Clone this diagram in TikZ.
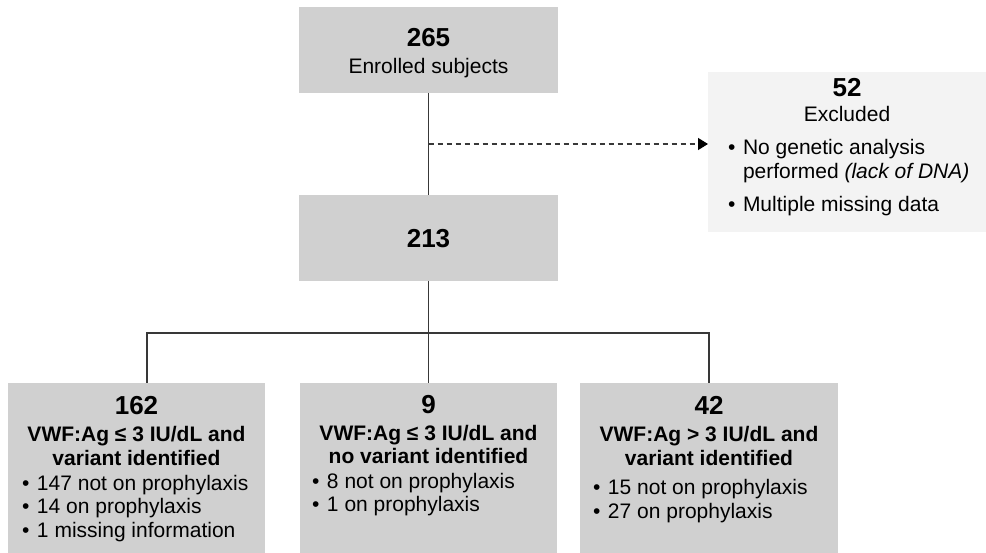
\documentclass[tikz,border=0pt]{standalone}
\usepackage{fontspec}
\setmainfont{Liberation Sans}
\usetikzlibrary{arrows.meta}
\definecolor{boxgray}{HTML}{D0D0D0}
\definecolor{exclgray}{HTML}{F3F3F3}
\definecolor{linegray}{HTML}{383838}
\newcommand{\bignum}[1]{{\fontsize{26}{28}\selectfont\bfseries #1}\par}
\newcommand{\bul}{\makebox[15pt][l]{\textbullet}}
\newcommand{\boxtext}[3]{\parbox[c][#1][t]{#2}{\fontsize{21}{23.5}\selectfont\centering #3}}

\begin{document}
\begin{tikzpicture}[x=1pt,y=-1pt,
  flowbox/.style={fill=boxgray,inner sep=0pt,outer sep=0pt},
  link/.style={linegray,line width=1.6pt}]
\useasboundingbox (0,0) rectangle (986,553);
\node[flowbox] (enrolled) at (428.5,50) {\boxtext{86pt}{259pt}{\rule{0pt}{40pt}\bignum{265}\vspace{3.5pt}Enrolled subjects}};
\node[flowbox] (selected) at (428.5,238) {\boxtext{86pt}{259pt}{\rule{0pt}{53pt}\bignum{213}}};
\node[flowbox,fill=exclgray] (excluded) at (847,152) {\boxtext{160pt}{278pt}{\rule{0pt}{25pt}\bignum{52}\vspace{1.5pt}Excluded\par\vspace{9.5pt}
  \raggedright\leftskip=20pt\bul No genetic analysis\\\hspace*{15pt}performed \textit{(lack of DNA)}\par\vspace{9.5pt}
  \bul Multiple missing data}};
% three groups
\node[flowbox] (grpA) at (136.5,468) {\boxtext{170pt}{257pt}{\rule{0pt}{32pt}\bignum{162}\vspace{3.5pt}\textbf{VWF:Ag ≤ 3 IU/dL and\\variant identified}\par\vspace{1.5pt}
  \raggedright\leftskip=14pt\bul 147 not on prophylaxis\\\bul 14 on prophylaxis\\\bul 1 missing information}};
\node[flowbox] (grpB) at (428.5,468) {\boxtext{170pt}{257pt}{\rule{0pt}{30pt}\bignum{9}\vspace{3.5pt}\textbf{VWF:Ag ≤ 3 IU/dL and\\no variant identified}\par\vspace{1.5pt}
  \raggedright\leftskip=12pt\bul 8 not on prophylaxis\\\bul 1 on prophylaxis}};
\node[flowbox] (grpC) at (709,468) {\boxtext{170pt}{258pt}{\rule{0pt}{32pt}\bignum{42}\vspace{3.5pt}\textbf{VWF:Ag > 3 IU/dL and\\variant identified}\par\vspace{6pt}
  \raggedright\leftskip=13pt\bul 15 not on prophylaxis\\\bul 27 on prophylaxis}};
\coordinate (split) at (428.5,144);
\coordinate (fork) at (428.5,333);
\draw[link] (enrolled) -- (selected);
\draw[link,line width=1.3pt,dash pattern=on 5pt off 4pt,-{Triangle[length=10pt,width=12pt,color=black]}] (split) -- (split -| excluded.west);
\draw[link] (selected) -- (fork);
\draw[link] ([xshift=10.5pt]grpA.north) |- (fork) -| (grpC.north);
\draw[link] (fork) -- (grpB);
\end{tikzpicture}
\end{document}
